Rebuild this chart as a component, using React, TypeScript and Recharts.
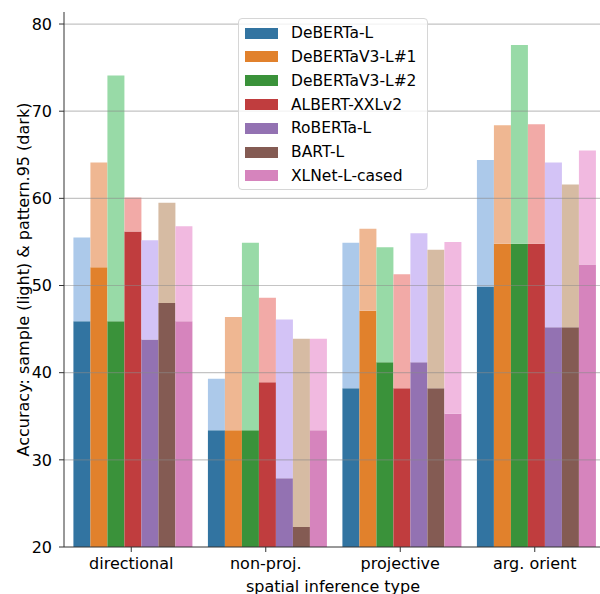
import { BarChart, Bar, XAxis, YAxis, ReferenceLine, Label } from 'recharts';

const categories = ['directional', 'non-proj.', 'projective', 'arg. orient'];
const models = ['DeBERTa-L', 'DeBERTaV3-L#1', 'DeBERTaV3-L#2', 'ALBERT-XXLv2', 'RoBERTa-L', 'BART-L', 'XLNet-L-cased'];

// light bars: accuracy on the sample (one row per model, columns follow categories)
const sampleAcc = [
  [55.5, 39.3, 54.9, 64.4],
  [64.1, 46.4, 56.5, 68.4],
  [74.1, 54.9, 54.4, 77.6],
  [60.1, 48.6, 51.3, 68.5],
  [55.2, 46.1, 56.0, 64.1],
  [59.5, 43.9, 54.1, 61.6],
  [56.8, 43.9, 55.0, 65.5],
];

// dark bars: pattern.95 accuracy
const patternAcc = [
  [45.9, 33.4, 38.2, 49.9],
  [52.1, 33.4, 47.1, 54.8],
  [45.9, 33.4, 41.2, 54.8],
  [56.2, 38.9, 38.2, 54.8],
  [43.8, 27.9, 41.2, 45.2],
  [48.0, 22.3, 38.2, 45.2],
  [45.9, 33.4, 35.3, 52.4],
];

const yTicks = [20, 30, 40, 50, 60, 70, 80];

const darkColors = ['#3274a1', '#e1812c', '#3a923a', '#c03d3e', '#9372b2', '#845b53', '#d684bd'];
const lightColors = ['#acc9ea', '#efb792', '#98daa7', '#f2aaa7', '#d3c3f6', '#d6bba3', '#f1b9e0'];

const FONT = 'DejaVu Sans, sans-serif';

// dark part sits at the bottom of each stack, the light remainder on top of it
const chartData = categories.map((cat, j) => {
  const row: Record<string, string | number> = { category: cat };
  models.forEach((_, i) => {
    row[`p${i}`] = patternAcc[i][j];
    row[`s${i}`] = +(sampleAcc[i][j] - patternAcc[i][j]).toFixed(2);
  });
  return row;
});

const YLabel = (props: any) => {
  const vb = props.viewBox || {};
  const cx = 29;
  const cy = vb.height ? vb.y + vb.height / 2 : 279.5;
  return (
    <text x={cx} y={cy} transform={`rotate(-90, ${cx}, ${cy})`} textAnchor="middle" fontSize={16} fill="#000" fontFamily={FONT}>
      Accuracy: sample (light) &amp; pattern.95 (dark)
    </text>
  );
};

export default function App() {
  return (
    <div style={{ position: 'absolute', left: 0, top: 0, width: 600, height: 594, overflow: 'hidden', background: '#fff', fontFamily: FONT }}>
      <BarChart
        width={604}
        height={594}
        data={chartData}
        margin={{ top: 12, right: 2, bottom: 0, left: 0 }}
        barGap={0}
        barCategoryGap="7%"
      >
        <XAxis
          dataKey="category"
          height={47}
          tickSize={5}
          tickMargin={6}
          stroke="#333"
          tick={{ fill: '#000', fontSize: 16, fontFamily: FONT }}
        >
          <Label value="spatial inference type" position="insideBottom" offset={2} fill="#000" fontSize={16} fontFamily={FONT} />
        </XAxis>
        <XAxis xAxisId="top" orientation="top" dataKey="category" height={0} tick={false} tickLine={false} stroke="#333" />
        <YAxis
          type="number"
          domain={[20, 81.38]}
          allowDataOverflow
          ticks={yTicks}
          interval={0}
          width={64}
          tickSize={5}
          tickMargin={7}
          stroke="#333"
          tick={{ fill: '#000', fontSize: 16, fontFamily: FONT }}
        >
          <Label content={<YLabel />} />
        </YAxis>
        {models.flatMap((m, i) => [
          <Bar key={`p${i}`} dataKey={`p${i}`} name={m} stackId={`m${i}`} fill={darkColors[i]} isAnimationActive={false} />,
          <Bar key={`s${i}`} dataKey={`s${i}`} name={`${m} sample`} stackId={`m${i}`} fill={lightColors[i]} isAnimationActive={false} />,
        ])}
        {yTicks.slice(1).map((t) => (
          <ReferenceLine key={t} y={t} stroke="#8a8a8a" strokeOpacity={0.5} strokeWidth={1.2} />
        ))}
      </BarChart>

      <div
        style={{
          position: 'absolute',
          left: 238,
          top: 18,
          width: 190,
          height: 172,
          boxSizing: 'border-box',
          border: '1px solid #d6d6d6',
          borderRadius: 4,
          background: 'rgba(255,255,255,0.8)',
          paddingTop: 2.3,
        }}
      >
        {models.map((m, i) => (
          <div key={m} style={{ height: 23.8, display: 'flex', alignItems: 'center' }}>
            <div style={{ marginLeft: 6, width: 33, height: 11, background: darkColors[i] }} />
            <span style={{ marginLeft: 13, fontSize: 15.5, color: '#000', whiteSpace: 'nowrap' }}>{m}</span>
          </div>
        ))}
      </div>
    </div>
  );
}
